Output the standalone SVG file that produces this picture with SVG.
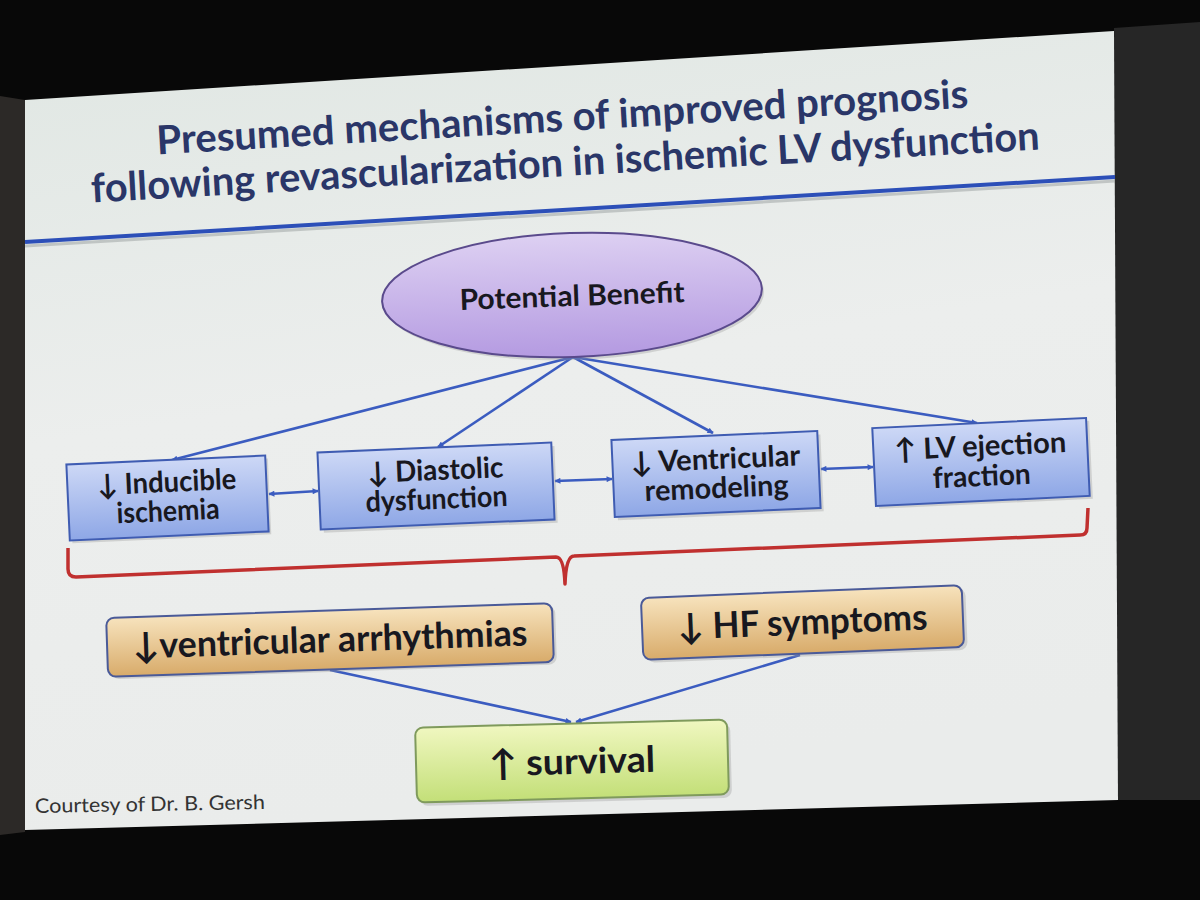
<svg xmlns="http://www.w3.org/2000/svg" width="1200" height="900" viewBox="0 0 1200 900">
<defs>
<linearGradient id="slideBg" x1="0" y1="0" x2="0.2" y2="1">
<stop offset="0" stop-color="#e0e7e3"/>
<stop offset="0.5" stop-color="#eceeed"/>
<stop offset="1" stop-color="#eaeceb"/>
</linearGradient>
<linearGradient id="blueBox" x1="0" y1="0" x2="0" y2="1">
<stop offset="0" stop-color="#cdd8f6"/>
<stop offset="1" stop-color="#8ea7e6"/>
</linearGradient>
<linearGradient id="orangeBox" x1="0" y1="0" x2="0" y2="1">
<stop offset="0" stop-color="#f7e3bd"/>
<stop offset="1" stop-color="#d8ab6a"/>
</linearGradient>
<linearGradient id="greenBox" x1="0" y1="0" x2="0" y2="1">
<stop offset="0" stop-color="#f0f7c0"/>
<stop offset="1" stop-color="#c3df78"/>
</linearGradient>
<linearGradient id="ellFill" x1="0" y1="0" x2="0" y2="1">
<stop offset="0" stop-color="#ddd0f2"/>
<stop offset="1" stop-color="#b49ae1"/>
</linearGradient>
<marker id="ah" viewBox="0 0 10 10" refX="9" refY="5" markerWidth="8" markerHeight="6" markerUnits="userSpaceOnUse" orient="auto-start-reverse">
<path d="M0,0 L10,5 L0,10 z" fill="#3b5cc0"/>
</marker>
</defs>
<style>
.title{font-family:"Lato","Open Sans","DejaVu Sans",sans-serif;font-weight:bold;font-size:40px;fill:#2a3668}
.lbl{font-family:"Lato","Open Sans","DejaVu Sans",sans-serif;font-weight:bold;font-size:29px;fill:#18181f;text-anchor:middle}
.big{font-family:"Lato","Open Sans","DejaVu Sans",sans-serif;font-weight:bold;font-size:36px;fill:#18181f;text-anchor:middle}
.bbox{fill:url(#blueBox);stroke:#3f5cb2;stroke-width:2}
.obox{fill:url(#orangeBox);stroke:#4a5a98;stroke-width:2}
.gbox{fill:url(#greenBox);stroke:#7f9a5c;stroke-width:2}
.shadow{fill:#9a9c9c;opacity:0.35}
.conn{stroke:#3b5cc0;stroke-width:2.6;fill:none}
.foot{font-family:"Lato","Open Sans","DejaVu Sans",sans-serif;font-size:20px;fill:#333333}
</style>

<!-- room / projection surroundings -->
<rect x="0" y="0" width="1200" height="900" fill="#080808"/>
<polygon points="0,96 25,100 25,832 0,835" fill="#2c2927"/>
<polygon points="1114,28 1200,22 1200,800 1118,800" fill="#262626"/>

<!-- slide -->
<polygon id="slide" points="25,100 1114,31 1118,800 25,830" fill="url(#slideBg)"/>

<!-- title -->
<g id="title">
<text class="title" transform="translate(563,131) rotate(-3.3)" text-anchor="middle" textLength="813" lengthAdjust="spacingAndGlyphs">Presumed mechanisms of improved prognosis</text>
<text class="title" transform="translate(566,176) rotate(-3.2)" text-anchor="middle" textLength="950" lengthAdjust="spacingAndGlyphs">following revascularization in ischemic LV dysfunction</text>
<line x1="25" y1="246" x2="1115" y2="181" stroke="#9aa0a0" stroke-width="3" opacity="0.5"/>
<line x1="25" y1="242" x2="1115" y2="177" stroke="#2c4fb8" stroke-width="4"/>
</g>

<!-- connectors -->
<g id="connectors">
<line class="conn" x1="573" y1="357" x2="172" y2="460" marker-end="url(#ah)"/>
<line class="conn" x1="573" y1="357" x2="438" y2="447" marker-end="url(#ah)"/>
<line class="conn" x1="573" y1="357" x2="713" y2="433" marker-end="url(#ah)"/>
<line class="conn" x1="573" y1="357" x2="977" y2="423" marker-end="url(#ah)"/>
<line class="conn" x1="269" y1="494" x2="318" y2="491" marker-start="url(#ah)" marker-end="url(#ah)"/>
<line class="conn" x1="555" y1="481" x2="612" y2="479" marker-start="url(#ah)" marker-end="url(#ah)"/>
<line class="conn" x1="821" y1="469" x2="873" y2="467" marker-start="url(#ah)" marker-end="url(#ah)"/>
<line class="conn" x1="330" y1="670" x2="571" y2="722" marker-end="url(#ah)"/>
<line class="conn" x1="800" y1="655" x2="576" y2="722" marker-end="url(#ah)"/>
</g>

<!-- brace -->
<path id="brace" d="M68,548 L68,569 Q68,577 76,577 L556,557 Q564,557 565,584 Q566,556 574,556 L1080,535 Q1087,535 1087,528 L1088,508" fill="none" stroke="#c0302f" stroke-width="3.5" stroke-linejoin="round"/>

<!-- ellipse -->
<g id="potential-benefit" transform="translate(572,295) rotate(-2)">
<ellipse cx="2" cy="3" rx="190" ry="62" class="shadow"/>
<ellipse cx="0" cy="0" rx="190" ry="62" fill="url(#ellFill)" stroke="#5a4a8c" stroke-width="2"/>
<text class="lbl" x="0" y="11" font-size="28" textLength="225" lengthAdjust="spacingAndGlyphs">Potential Benefit</text>
</g>

<g id="inducible-ischemia" transform="translate(167.5,498) rotate(-2.6)">
<rect x="-97" y="-35" width="199" height="76" class="shadow"/>
<rect x="-99.5" y="-38" width="199" height="76" class="bbox"/>
<text class="lbl" x="0" y="-6" textLength="139" lengthAdjust="spacingAndGlyphs">↓ Inducible</text>
<text class="lbl" x="0" y="23" textLength="103" lengthAdjust="spacingAndGlyphs">ischemia</text>
</g>

<g id="diastolic-dysfunction" transform="translate(436,486) rotate(-2.45)">
<rect x="-114" y="-35" width="234" height="77" class="shadow"/>
<rect x="-117" y="-38.5" width="234" height="77" class="bbox"/>
<text class="lbl" x="0" y="-6" textLength="136" lengthAdjust="spacingAndGlyphs">↓ Diastolic</text>
<text class="lbl" x="0" y="23" textLength="142" lengthAdjust="spacingAndGlyphs">dysfunction</text>
</g>

<g id="ventricular-remodeling" transform="translate(716,474) rotate(-2.5)">
<rect x="-100" y="-35" width="206" height="77" class="shadow"/>
<rect x="-103" y="-38.5" width="206" height="77" class="bbox"/>
<text class="lbl" x="0" y="-5" textLength="170" lengthAdjust="spacingAndGlyphs">↓ Ventricular</text>
<text class="lbl" x="0" y="24" textLength="144" lengthAdjust="spacingAndGlyphs">remodeling</text>
</g>

<g id="lv-ejection-fraction" transform="translate(981,462) rotate(-2.7)">
<rect x="-104" y="-36" width="214" height="78" class="shadow"/>
<rect x="-107" y="-39" width="214" height="78" class="bbox"/>
<text class="lbl" x="0" y="-6" textLength="172" lengthAdjust="spacingAndGlyphs">↑ LV ejection</text>
<text class="lbl" x="0" y="24" textLength="98" lengthAdjust="spacingAndGlyphs">fraction</text>
</g>

<g id="ventricular-arrhythmias" transform="translate(330,640) rotate(-1.9)">
<rect x="-220" y="-27" width="446" height="59" rx="8" class="shadow"/>
<rect x="-223" y="-29.5" width="446" height="59" rx="8" class="obox"/>
<text class="big" x="0" y="12" textLength="395" lengthAdjust="spacingAndGlyphs">↓ventricular arrhythmias</text>
</g>

<g id="hf-symptoms" transform="translate(802.5,622.5) rotate(-2.3)">
<rect x="-157" y="-28" width="321" height="62" rx="8" class="shadow"/>
<rect x="-160.5" y="-31" width="321" height="62" rx="8" class="obox"/>
<text class="big" x="0" y="12" textLength="250" lengthAdjust="spacingAndGlyphs">↓ HF symptoms</text>
</g>

<g id="survival" transform="translate(572,761) rotate(-1.5)">
<rect x="-153" y="-34" width="312" height="75" rx="8" class="shadow"/>
<rect x="-156" y="-37.5" width="312" height="75" rx="8" class="gbox"/>
<text class="big" x="0" y="13" textLength="166" lengthAdjust="spacingAndGlyphs">↑ survival</text>
</g>

<text id="courtesy" class="foot" transform="translate(35,813) rotate(-1)" textLength="230" lengthAdjust="spacingAndGlyphs">Courtesy of Dr. B. Gersh</text>
</svg>
